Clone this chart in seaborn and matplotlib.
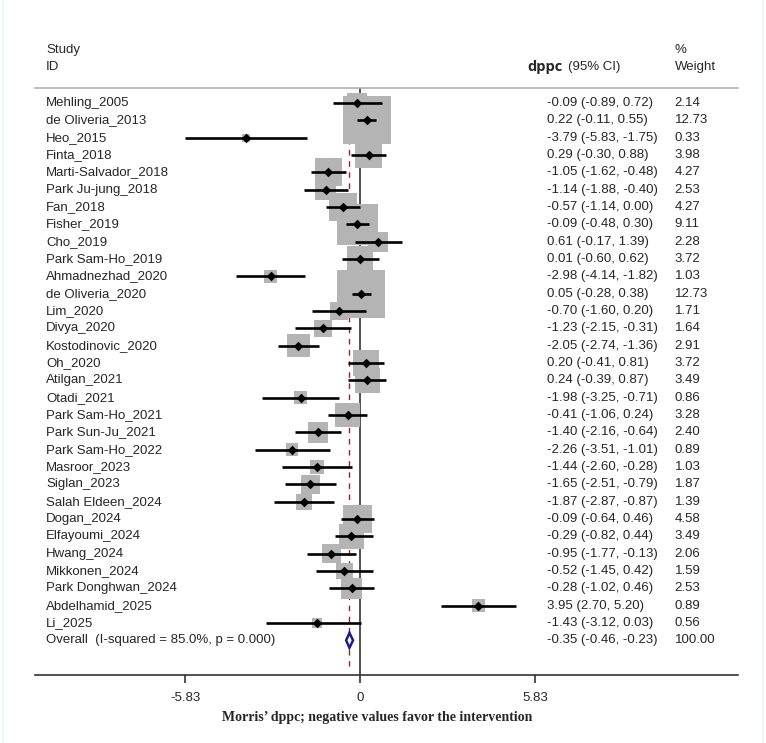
import numpy as np
import pandas as pd
import matplotlib.pyplot as plt
from matplotlib.lines import Line2D
from matplotlib.patches import Polygon
import seaborn as sns

studies = [
    "Mehling_2005", "de Oliveria_2013", "Heo_2015", "Finta_2018", "Marti-Salvador_2018",
    "Park Ju-jung_2018", "Fan_2018", "Fisher_2019", "Cho_2019", "Park Sam-Ho_2019",
    "Ahmadnezhad_2020", "de Oliveria_2020", "Lim_2020", "Divya_2020", "Kostodinovic_2020",
    "Oh_2020", "Atilgan_2021", "Otadi_2021", "Park Sam-Ho_2021", "Park Sun-Ju_2021",
    "Park Sam-Ho_2022", "Masroor_2023", "Siglan_2023", "Salah Eldeen_2024", "Dogan_2024",
    "Elfayoumi_2024", "Hwang_2024", "Mikkonen_2024", "Park Donghwan_2024",
    "Abdelhamid_2025", "Li_2025",
]
est = [-0.09, 0.22, -3.79, 0.29, -1.05, -1.14, -0.57, -0.09, 0.61, 0.01,
       -2.98, 0.05, -0.70, -1.23, -2.05, 0.20, 0.24, -1.98, -0.41, -1.40,
       -2.26, -1.44, -1.65, -1.87, -0.09, -0.29, -0.95, -0.52, -0.28, 3.95, -1.43]
lo = [-0.89, -0.11, -5.83, -0.30, -1.62, -1.88, -1.14, -0.48, -0.17, -0.60,
      -4.14, -0.28, -1.60, -2.15, -2.74, -0.41, -0.39, -3.25, -1.06, -2.16,
      -3.51, -2.60, -2.51, -2.87, -0.64, -0.82, -1.77, -1.45, -1.02, 2.70, -3.12]
hi = [0.72, 0.55, -1.75, 0.88, -0.48, -0.40, 0.00, 0.30, 1.39, 0.62,
      -1.82, 0.38, 0.20, -0.31, -1.36, 0.81, 0.87, -0.71, 0.24, -0.64,
      -1.01, -0.28, -0.79, -0.87, 0.46, 0.44, -0.13, 0.42, 0.46, 5.20, 0.03]
weights = [2.14, 12.73, 0.33, 3.98, 4.27, 2.53, 4.27, 9.11, 2.28, 3.72,
           1.03, 12.73, 1.71, 1.64, 2.91, 3.72, 3.49, 0.86, 3.28, 2.40,
           0.89, 1.03, 1.87, 1.39, 4.58, 3.49, 2.06, 1.59, 2.53, 0.89, 0.56]

overall_label = "Overall  (I-squared = 85.0%, p = 0.000)"
overall_est, overall_lo, overall_hi, overall_w = -0.35, -0.46, -0.23, 100.00
xticks = [-5.83, 0, 5.83]
xtick_labels = ["-5.83", "0", "5.83"]

df = pd.DataFrame({"study": studies, "est": est, "lo": lo, "hi": hi, "w": weights})
df["row"] = np.arange(len(df))
df["box"] = 93.8 * df["w"]

sns.set_theme(style="white")
plt.rcParams["font.family"] = ["Liberation Sans", "DejaVu Sans"]

fig = plt.figure(figsize=(7.66, 7.43), dpi=100)
ax = fig.add_axes([35 / 766, 68 / 743, 703 / 766, 587 / 743])
ax.set_xlim(-10.83, 12.6)
ax.set_ylim(33.0, -0.866)

# reference lines
ax.axvline(0, color="#333333", linewidth=1.2, zorder=1)
ax.plot([overall_est, overall_est], [-0.5, 32.5], color="#a0202a",
        linestyle=(0, (4, 4)), linewidth=1.0, zorder=1.5)

# weight boxes
sns.scatterplot(data=df, x="est", y="row", size="box", sizes=(df["box"].min(), df["box"].max()),
                marker="s", color="#b4b4b4", linewidth=0, legend=False, ax=ax, zorder=2)

# CIs and point estimates
ax.hlines(df["row"], df["lo"], df["hi"], color="black", linewidth=1.9, zorder=3)
sns.scatterplot(data=df, x="est", y="row", marker="D", s=24, color="black",
                linewidth=0, legend=False, ax=ax, zorder=4)

# overall diamond
n = len(df)
h = 0.43
ax.add_patch(Polygon([[overall_lo, n], [overall_est, n - h], [overall_hi, n], [overall_est, n + h]],
                     closed=True, facecolor="white", edgecolor="#1c1c8a", linewidth=1.8, zorder=5))

# text columns
tr = ax.get_yaxis_transform()
fs = 9.5
for _, r in df.iterrows():
    ax.text(0.0156, r["row"], r["study"], transform=tr, fontsize=fs, va="center", ha="left")
    ax.text(0.728, r["row"], f"{r['est']:.2f} ({r['lo']:.2f}, {r['hi']:.2f})",
            transform=tr, fontsize=fs, va="center", ha="left")
    ax.text(0.910, r["row"], f"{r['w']:.2f}", transform=tr, fontsize=fs, va="center", ha="left")

ax.text(0.0156, n, overall_label, transform=tr, fontsize=fs, va="center", ha="left")
ax.text(0.728, n, f"{overall_est:.2f} ({overall_lo:.2f}, {overall_hi:.2f})",
        transform=tr, fontsize=fs, va="center", ha="left")
ax.text(0.910, n, f"{overall_w:.2f}", transform=tr, fontsize=fs, va="center", ha="left")

# headers
ax.text(0.0156, -3.06, "Study", transform=tr, fontsize=fs, va="center", ha="left", clip_on=False)
ax.text(0.0156, -2.08, "ID", transform=tr, fontsize=fs, va="center", ha="left", clip_on=False)
ax.text(0.910, -3.06, "%", transform=tr, fontsize=fs, va="center", ha="left", clip_on=False)
ax.text(0.910, -2.08, "Weight", transform=tr, fontsize=fs, va="center", ha="left", clip_on=False)
ax.text(0.701, -2.08, "dppc", transform=tr, fontsize=10.5, fontweight="bold",
        family=["Open Sans", "DejaVu Sans"], va="center", ha="left", clip_on=False)
ax.text(0.758, -2.08, "(95% CI)", transform=tr, fontsize=fs, va="center", ha="left", clip_on=False)

# axes styling
for side in ["left", "right"]:
    ax.spines[side].set_visible(False)
ax.spines["top"].set_color("#b0b0b0")
ax.spines["top"].set_linewidth(1.2)
ax.spines["bottom"].set_color("#333333")
ax.spines["bottom"].set_linewidth(1.2)
ax.set_yticks([])
ax.set_xticks(xticks)
ax.set_xticklabels(xtick_labels)
ax.tick_params(axis="x", direction="out", length=6, width=1.2, color="#333333",
               labelsize=fs, pad=6, bottom=True)
ax.set_xlabel("")
ax.set_ylabel("")

fig.text(377 / 766, 1 - 718 / 743, "Morris\u2019 dppc; negative values favor the intervention",
         ha="center", va="center", fontsize=10, fontweight="bold",
         family=["Liberation Serif", "DejaVu Serif"])

# faint border of the graph region
fig.add_artist(Line2D([3 / 766, 3 / 766], [0, 1], color="#eef3f3", linewidth=1.2))
fig.add_artist(Line2D([763 / 766, 763 / 766], [0, 1], color="#eef3f3", linewidth=1.2))

fig.savefig("out.png", dpi=100)
